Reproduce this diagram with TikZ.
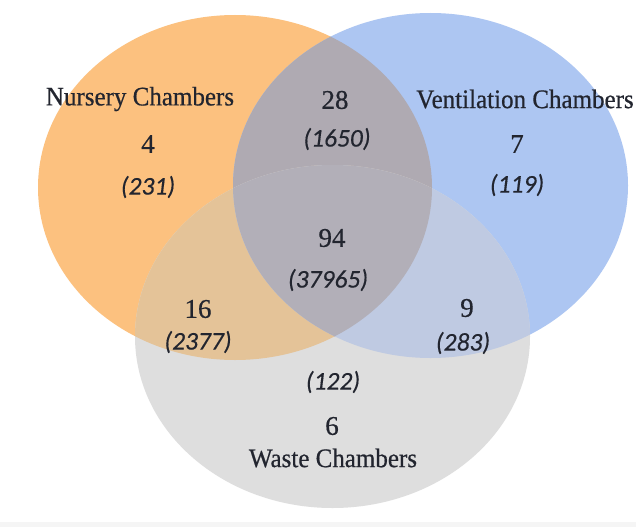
\documentclass[tikz,border=0pt]{standalone}
\usepackage{fontspec}
\setmainfont{Liberation Serif}
\newfontfamily\lblfont{Liberation Serif}[FakeBold=0.6]
\newfontfamily\numfont{Carlito}[ItalicFeatures={FakeBold=0.4}]
\definecolor{orangeC}{HTML}{FCC17F}
\definecolor{blueC}{HTML}{ADC6F2}
\definecolor{wasteC}{HTML}{DEDEDE}
\definecolor{obC}{HTML}{AFAAB2}
\definecolor{owC}{HTML}{E4C398}
\definecolor{bwC}{HTML}{BFCAE2}
\definecolor{centerC}{HTML}{B2AFB8}
\definecolor{txtC}{HTML}{22252F}
\tikzset{
  lbl/.style={text=txtC, font=\lblfont\fontsize{25}{28}\selectfont, inner sep=0pt, yscale=1.07},
  cnt/.style={text=txtC, font=\lblfont\fontsize{27}{30}\selectfont, inner sep=0pt},
  sub/.style={text=txtC, font=\numfont\itshape\fontsize{25.5}{28}\selectfont, inner sep=0pt}
}
\def\Opath{(235,187.5) ellipse [x radius=197pt, y radius=172.5pt]}
\def\Bpath{(430.5,185.5) ellipse [x radius=197.5pt, y radius=172.5pt]}
\def\Wpath{(332.5,336.5) ellipse [x radius=197.5pt, y radius=171.5pt]}
\begin{document}
\begin{tikzpicture}[x=1pt,y=-1pt]
\useasboundingbox (0,0) rectangle (636,527);
\fill[white] (0,0) rectangle (636,527);
\fill[black!4] (0,522) rectangle (636,527);
% circles
\fill[orangeC] \Opath;
\fill[blueC] \Bpath;
\fill[wasteC] \Wpath;
\begin{scope}
  \clip \Opath;
  \fill[obC] \Bpath;
  \fill[owC] \Wpath;
\end{scope}
\begin{scope}
  \clip \Bpath;
  \fill[bwC] \Wpath;
\end{scope}
\begin{scope}
  \clip \Opath;
  \clip \Bpath;
  \fill[centerC] \Wpath;
\end{scope}
% labels
\node[lbl] (nl) at (140,99) {Nursery Chambers};
\node[lbl] (vl) at (525,99) {Ventilation Chambers};
\node[lbl] (wl) at (333,458) {Waste Chambers};
% counts
\node[cnt] (n4) at (148,144) {4};
\node[sub] (n231) at (148,187) {(231)};
\node[cnt] (n28) at (335,100) {28};
\node[sub] (n1650) at (337,139) {(1650)};
\node[cnt] (n7) at (517,144) {7};
\node[sub] (n119) at (517,185) {(119)};
\node[cnt] (n94) at (332,238) {94};
\node[sub] (n37965) at (328,280) {(37965)};
\node[cnt] (n16) at (198,309) {16};
\node[sub] (n2377) at (198,342) {(2377)};
\node[cnt] (n9) at (467,308) {9};
\node[sub] (n283) at (463,343) {(283)};
\node[sub] (n122) at (333,382) {(122)};
\node[cnt] (n6) at (332,426) {6};
\end{tikzpicture}
\end{document}
